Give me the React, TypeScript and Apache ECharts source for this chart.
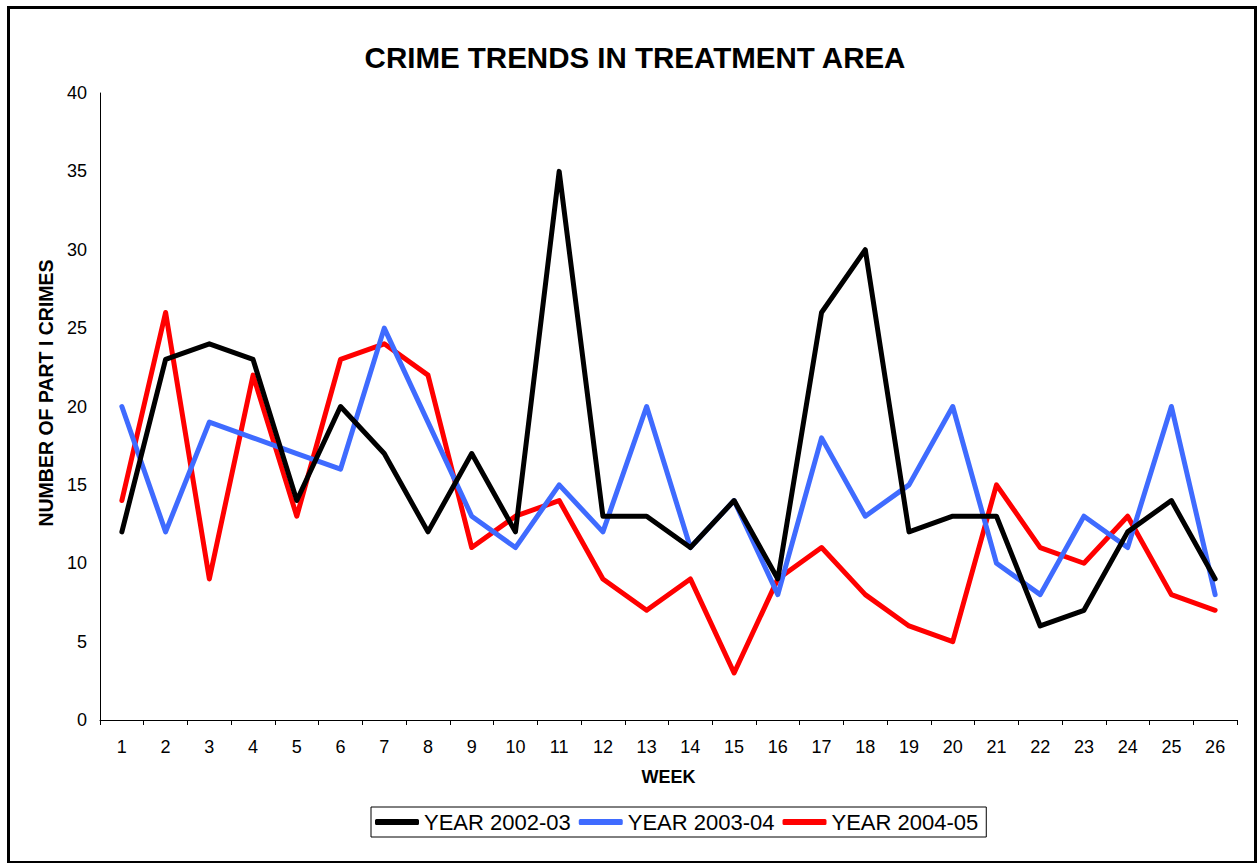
import React, { useEffect, useRef } from "react";
import * as echarts from "echarts";

const weeks = ["1","2","3","4","5","6","7","8","9","10","11","12","13","14","15","16","17","18","19","20","21","22","23","24","25","26"];
const year0203 = [12,23,24,23,14,20,17,12,17,12,35,13,13,11,14,9,26,30,12,13,13,6,7,12,14,9];
const year0304 = [20,12,19,18,17,16,25,19,13,11,15,12,20,11,14,8,18,13,15,20,10,8,13,11,20,8];
const year0405 = [14,26,9,22,13,23,24,22,11,13,14,9,7,9,3,9,11,8,6,5,15,11,10,13,8,7];
const seriesNames = ["YEAR 2002-03", "YEAR 2003-04", "YEAR 2004-05"];
const seriesColors = ["#000000", "#3F6BFF", "#FF0000"];

const FONT = "'Liberation Sans', Arial, sans-serif";

export default function App() {
  const ref = useRef<HTMLDivElement>(null);
  useEffect(() => {
    if (!ref.current) return;
    const chart = echarts.init(ref.current, undefined, { renderer: "svg" });
    const data = [year0203, year0304, year0405];
    chart.setOption({
      animation: false,
      backgroundColor: "#ffffff",
      textStyle: { fontFamily: FONT },
      title: {
        text: "CRIME TRENDS IN TREATMENT AREA",
        left: 630,
        top: 37,
        textAlign: "center",
        textStyle: { fontFamily: FONT, fontWeight: "bold", fontSize: 29.5, color: "#000" },
      },
      legend: {
        left: 371,
        top: 807,
        itemWidth: 44,
        itemHeight: 6,
        itemGap: 8,
        icon: "roundRect",
        borderColor: "#000",
        borderWidth: 1,
        borderRadius: 0,
        padding: [4, 8, 4, 4],
        textStyle: { fontFamily: FONT, fontSize: 22, color: "#000" },
        data: seriesNames,
      },
      grid: { left: 100, right: 20, top: 93, bottom: 143, containLabel: false },
      xAxis: {
        type: "category",
        data: weeks,
        boundaryGap: true,
        name: "WEEK",
        nameLocation: "middle",
        nameGap: 48,
        nameTextStyle: { fontFamily: FONT, fontWeight: "bold", fontSize: 18, color: "#000" },
        axisLine: { show: true, lineStyle: { color: "#000", width: 1 } },
        axisTick: { show: true, inside: false, length: 5, interval: 0, lineStyle: { color: "#000" } },
        axisLabel: { interval: 0, margin: 18, fontFamily: FONT, fontSize: 18, color: "#000" },
        splitLine: { show: false },
      },
      yAxis: {
        type: "value",
        min: 0,
        max: 40,
        interval: 5,
        axisLine: { show: true, lineStyle: { color: "#000", width: 1 } },
        axisTick: { show: false },
        axisLabel: { margin: 13, fontFamily: FONT, fontSize: 18, color: "#000" },
        splitLine: { show: false },
      },
      graphic: [
        {
          type: "rect",
          left: 6,
          top: 5,
          shape: { x: 0, y: 0, width: 1247, height: 855 },
          style: { fill: "none", stroke: "#000", lineWidth: 3 },
          silent: true,
        },
        {
          type: "text",
          x: 46,
          y: 393,
          rotation: Math.PI / 2,
          style: {
            text: "NUMBER OF PART I CRIMES",
            fontFamily: FONT,
            fontWeight: "bold",
            fontSize: 19.5,
            fill: "#000",
            align: "center",
            verticalAlign: "middle",
          },
          silent: true,
        },
      ],
      series: seriesNames.map((name, i) => ({
        name,
        type: "line",
        data: data[i],
        symbol: "none",
        lineStyle: { color: seriesColors[i], width: 5, cap: "round", join: "round" },
        itemStyle: { color: seriesColors[i] },
        z: 3 - i,
      })),
    });
    return () => chart.dispose();
  }, []);
  return (
    <div
      ref={ref}
      style={{ position: "fixed", left: 0, top: 0, width: 1257, height: 863 }}
    />
  );
}
